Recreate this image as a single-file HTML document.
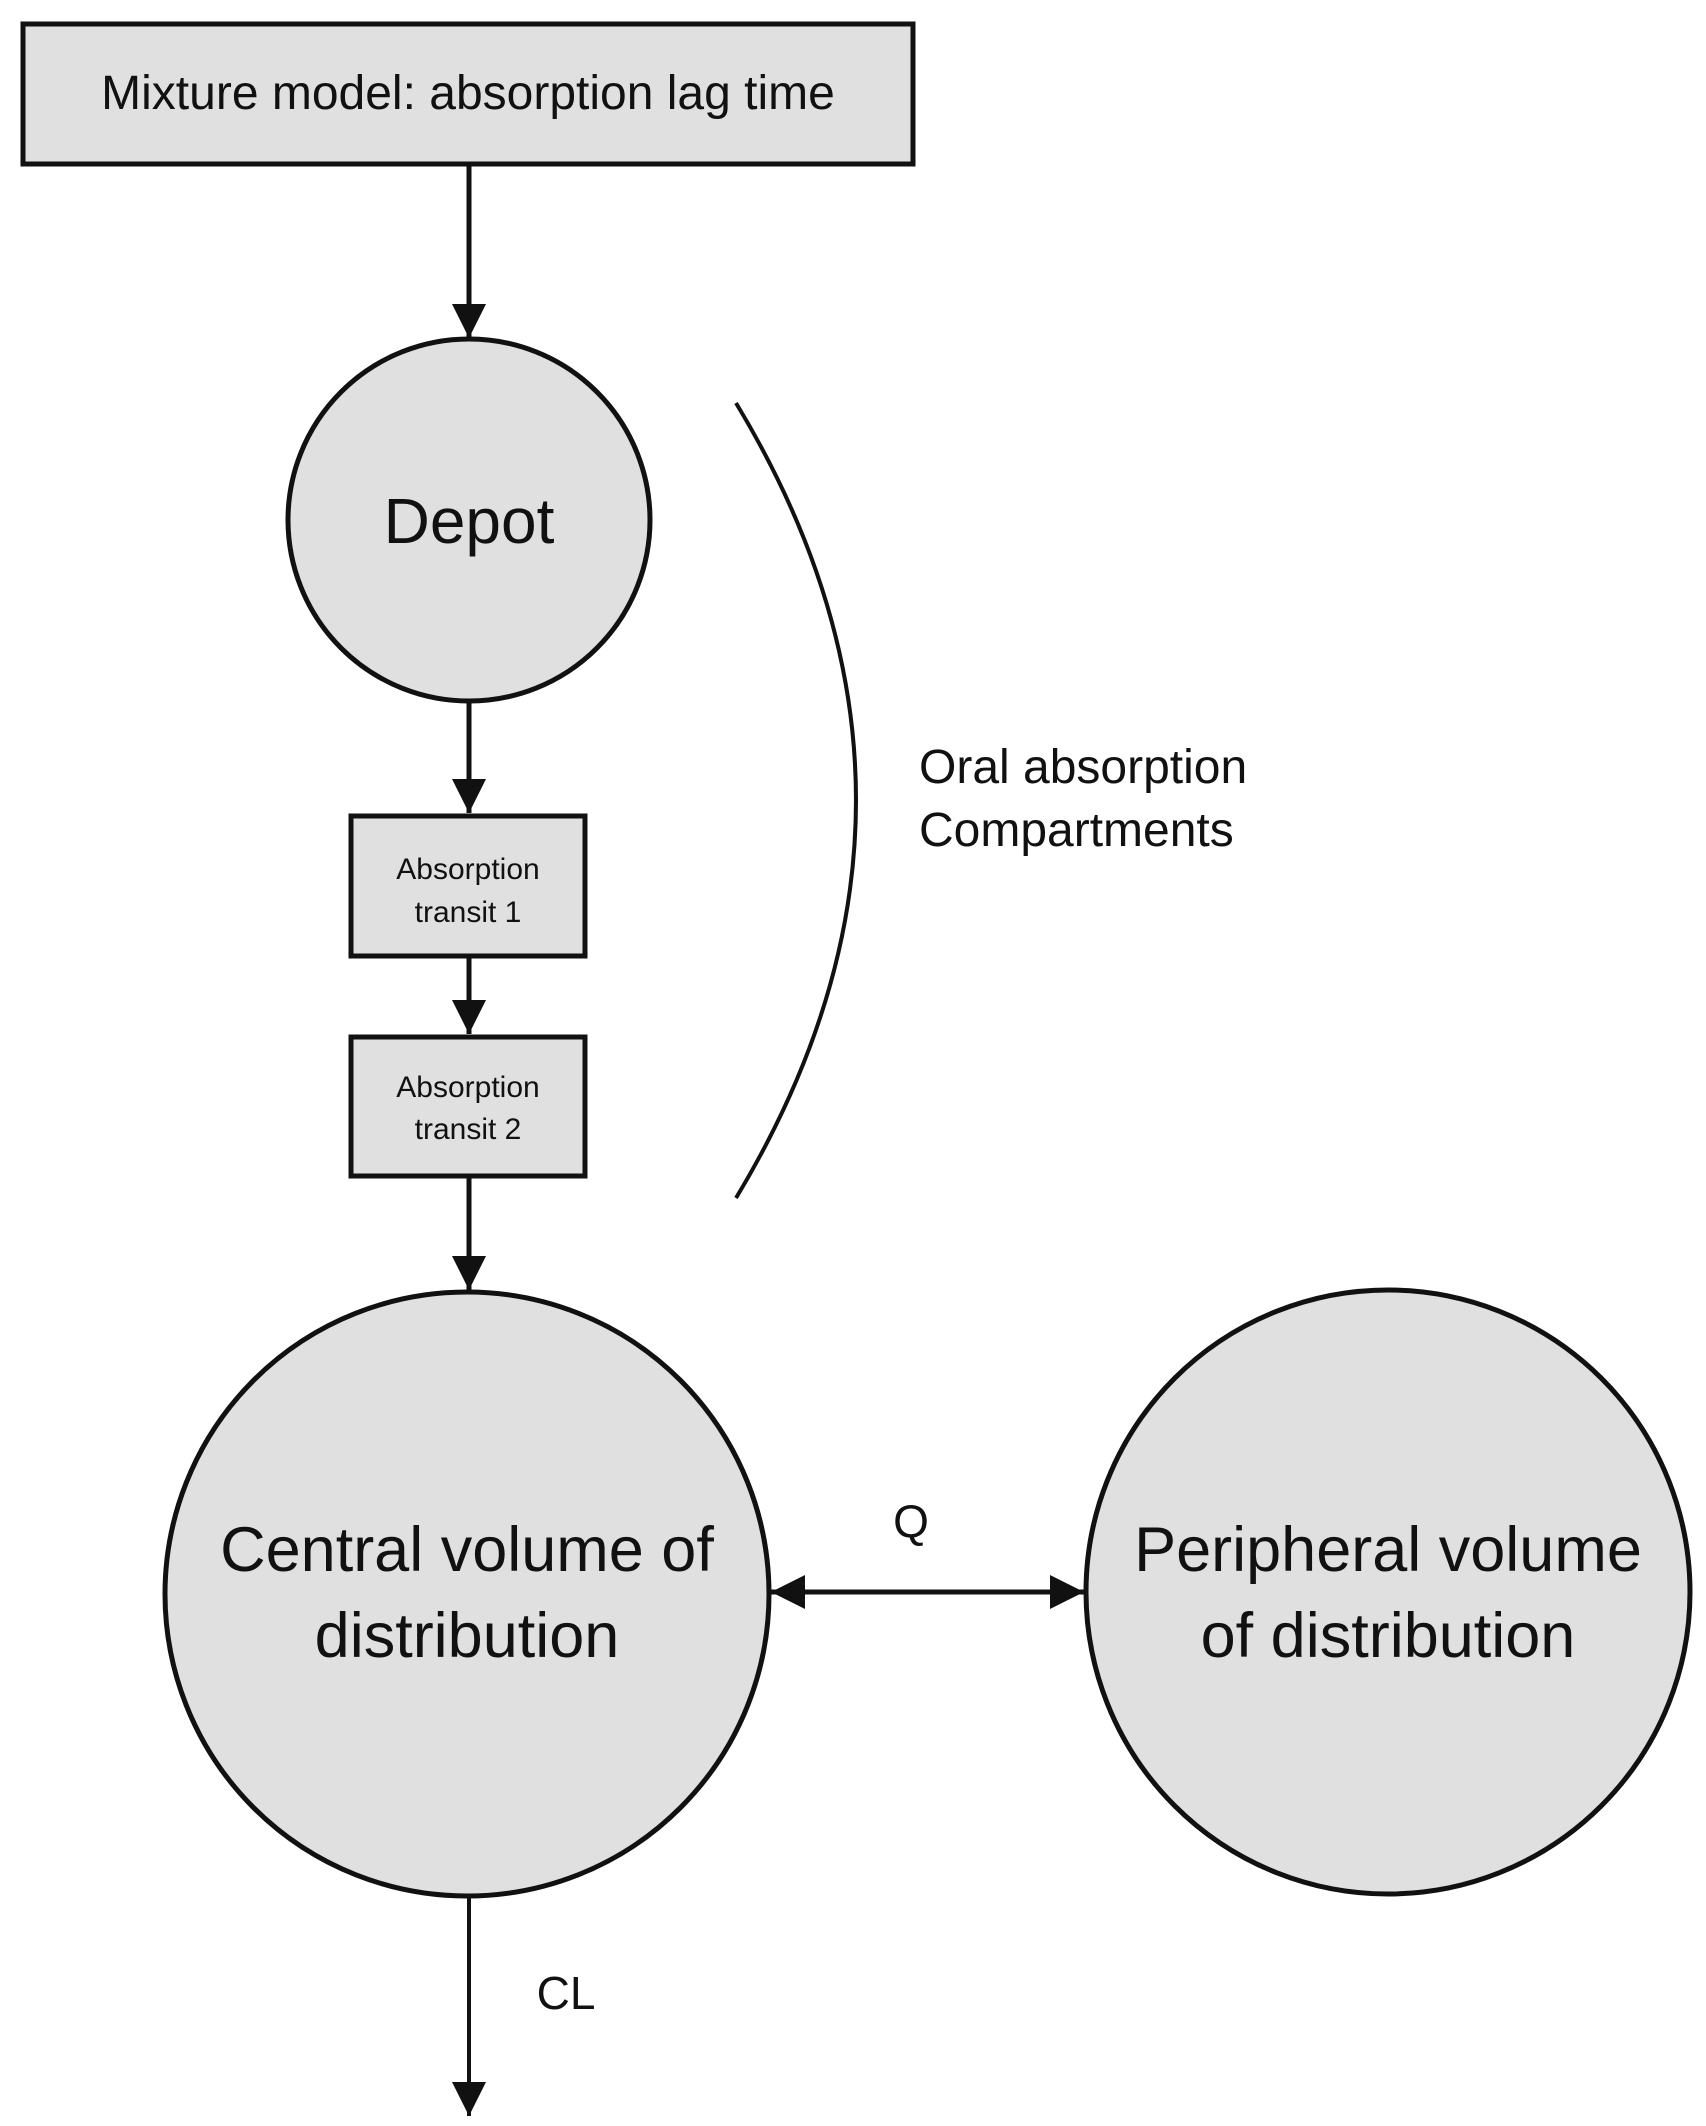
<!DOCTYPE html>
<html><head><meta charset="utf-8"><style>body{margin:0;background:#fff}svg{display:block}</style></head>
<body>
<svg width="1706" height="2126" viewBox="0 0 1706 2126" xmlns="http://www.w3.org/2000/svg" font-family="Liberation Sans, sans-serif" fill="#111">
<defs>
<marker id="h" viewBox="0 0 10 10" refX="10" refY="5" markerWidth="34" markerHeight="34" orient="auto-start-reverse" markerUnits="userSpaceOnUse"><path d="M0,0 L10,5 L0,10 z" fill="#111"/></marker></defs>
<g stroke="#111" stroke-width="5">
<rect x="23" y="24" width="890" height="140" fill="#e0e0e0"/>
<line x1="469" y1="164" x2="469" y2="338" marker-end="url(#h)"/>
<circle cx="469" cy="520" r="181" fill="#e0e0e0"/>
<line x1="469" y1="702" x2="469" y2="813" marker-end="url(#h)"/>
<rect x="351" y="816" width="234" height="140" fill="#e0e0e0"/>
<line x1="469" y1="956" x2="469" y2="1034" marker-end="url(#h)"/>
<rect x="351" y="1037" width="234" height="139" fill="#e0e0e0"/>
<line x1="469" y1="1176" x2="469" y2="1290" marker-end="url(#h)"/>
<circle cx="467" cy="1594" r="302" fill="#e0e0e0"/>
<circle cx="1388" cy="1592" r="302" fill="#e0e0e0"/>
<line x1="771" y1="1592" x2="1084" y2="1592" marker-start="url(#h)" marker-end="url(#h)"/>
<line x1="469" y1="1898" x2="469" y2="2116" stroke-width="4" marker-end="url(#h)"/>
<path d="M736,403 Q976,800 736,1198" fill="none" stroke-width="4"/>
</g>
<g text-anchor="middle">
<text x="468" y="109" font-size="48">Mixture model: absorption lag time</text>
<text x="469" y="543" font-size="64">Depot</text>
<text x="468" y="879" font-size="30">Absorption</text>
<text x="468" y="922" font-size="30">transit 1</text>
<text x="468" y="1097" font-size="30">Absorption</text>
<text x="468" y="1139" font-size="30">transit 2</text>
<text x="467" y="1571" font-size="63">Central volume of</text>
<text x="467" y="1657" font-size="63">distribution</text>
<text x="1388" y="1571" font-size="63">Peripheral volume</text>
<text x="1388" y="1657" font-size="63">of distribution</text>
<text x="911" y="1537" font-size="46">Q</text>
<text x="566" y="2009" font-size="46">CL</text>
</g>
<text x="919" y="783" font-size="48">Oral absorption</text>
<text x="919" y="846" font-size="48">Compartments</text>
</svg>
</body></html>
